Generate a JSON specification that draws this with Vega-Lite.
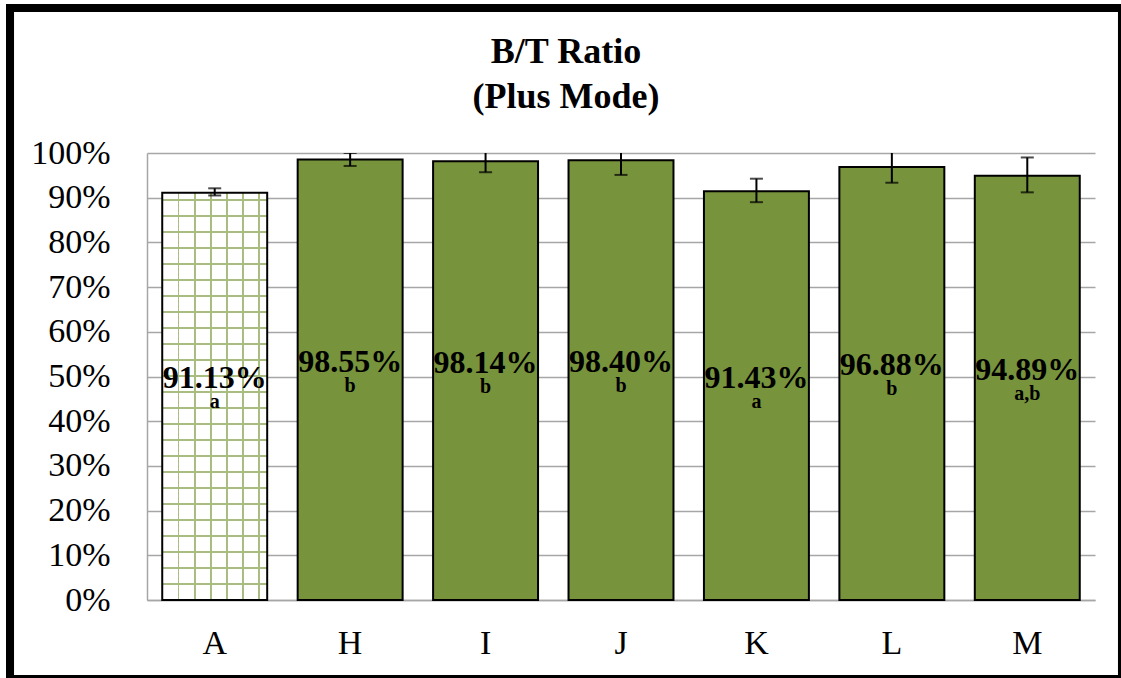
{
  "$schema": "https://vega.github.io/schema/vega-lite/v6.json",
  "autosize": "none",
  "width": 948,
  "height": 447,
  "padding": {"left": 147, "top": 153, "right": 26, "bottom": 78},
  "background": "white",
  "config": {
    "view": {"stroke": null},
    "font": "Liberation Serif",
    "axis": {"labelFont": "Liberation Serif", "labelColor": "black", "labelFontSize": 34, "ticks": false, "title": null, "domainColor": "#A6A6A6", "domainWidth": 1.5, "gridColor": "#A6A6A6", "gridWidth": 1.5}
  },
  "title": {
    "text": ["B/T Ratio", "(Plus Mode)"],
    "anchor": "middle",
    "frame": "group",
    "dx": -55,
    "offset": -140,
    "baseline": "alphabetic",
    "font": "Liberation Serif",
    "fontSize": 36,
    "fontWeight": "bold",
    "lineHeight": 45,
    "color": "black"
  },
  "data": {
    "values": [
      {"cat": "A", "value": 0.9113, "lo": 0.905, "hi": 0.921, "letter": "a"},
      {"cat": "H", "value": 0.9855, "lo": 0.971, "hi": 1.000, "letter": "b"},
      {"cat": "I", "value": 0.9814, "lo": 0.957, "hi": 1.006, "letter": "b"},
      {"cat": "J", "value": 0.9840, "lo": 0.951, "hi": 1.017, "letter": "b"},
      {"cat": "K", "value": 0.9143, "lo": 0.890, "hi": 0.9425, "letter": "a"},
      {"cat": "L", "value": 0.9688, "lo": 0.9335, "hi": 1.004, "letter": "b"},
      {"cat": "M", "value": 0.9489, "lo": 0.912, "hi": 0.990, "letter": "a,b"}
    ]
  },
  "layer": [
    {
      "encoding": {
        "x": {"field": "cat", "type": "nominal", "sort": ["A", "H", "I", "J", "K", "L", "M"],
              "scale": {"paddingInner": 0.225, "paddingOuter": 0.1125},
              "axis": {"labelAngle": 0, "labelPadding": 26, "labelFont": "Liberation Serif", "labelFontSize": 34, "domain": true}},
        "y": {"field": "value", "type": "quantitative",
              "scale": {"domain": [0, 1], "nice": false, "zero": true},
              "axis": {"values": [0, 0.1, 0.2, 0.3, 0.4, 0.5, 0.6, 0.7, 0.8, 0.9, 1.0], "format": ".0%", "grid": true, "domain": true, "labelPadding": 37, "labelFont": "Liberation Serif", "labelFontSize": 34}}
      },
      "layer": [
        {
          "transform": [{"filter": "datum.cat !== 'A'"}],
          "mark": {"type": "bar", "fill": "#77933C", "stroke": "black", "strokeWidth": 2}
        },
        {
          "transform": [{"filter": "datum.cat === 'A'"}],
          "mark": {"type": "bar", "fill": "white", "strokeWidth": 0}
        },
        {
          "transform": [{"filter": "datum.cat === 'A'"}],
          "mark": {"type": "bar", "strokeWidth": 0, "fill": {
            "gradient": "linear", "x1": 0, "y1": 0, "x2": 0, "y2": 1,
            "stops": [
              {"offset": 0.0, "color": "rgba(255,255,255,0)"},
              {"offset": 0.01645, "color": "rgba(255,255,255,0)"}, {"offset": 0.01645, "color": "#a9bd80"}, {"offset": 0.02045, "color": "#a9bd80"}, {"offset": 0.02045, "color": "rgba(255,255,255,0)"},
              {"offset": 0.05572, "color": "rgba(255,255,255,0)"}, {"offset": 0.05572, "color": "#a9bd80"}, {"offset": 0.05972, "color": "#a9bd80"}, {"offset": 0.05972, "color": "rgba(255,255,255,0)"},
              {"offset": 0.09499, "color": "rgba(255,255,255,0)"}, {"offset": 0.09499, "color": "#a9bd80"}, {"offset": 0.09899, "color": "#a9bd80"}, {"offset": 0.09899, "color": "rgba(255,255,255,0)"},
              {"offset": 0.13427, "color": "rgba(255,255,255,0)"}, {"offset": 0.13427, "color": "#a9bd80"}, {"offset": 0.13827, "color": "#a9bd80"}, {"offset": 0.13827, "color": "rgba(255,255,255,0)"},
              {"offset": 0.17354, "color": "rgba(255,255,255,0)"}, {"offset": 0.17354, "color": "#a9bd80"}, {"offset": 0.17754, "color": "#a9bd80"}, {"offset": 0.17754, "color": "rgba(255,255,255,0)"},
              {"offset": 0.21281, "color": "rgba(255,255,255,0)"}, {"offset": 0.21281, "color": "#a9bd80"}, {"offset": 0.21681, "color": "#a9bd80"}, {"offset": 0.21681, "color": "rgba(255,255,255,0)"},
              {"offset": 0.25209, "color": "rgba(255,255,255,0)"}, {"offset": 0.25209, "color": "#a9bd80"}, {"offset": 0.25609, "color": "#a9bd80"}, {"offset": 0.25609, "color": "rgba(255,255,255,0)"},
              {"offset": 0.29136, "color": "rgba(255,255,255,0)"}, {"offset": 0.29136, "color": "#a9bd80"}, {"offset": 0.29536, "color": "#a9bd80"}, {"offset": 0.29536, "color": "rgba(255,255,255,0)"},
              {"offset": 0.33063, "color": "rgba(255,255,255,0)"}, {"offset": 0.33063, "color": "#a9bd80"}, {"offset": 0.33463, "color": "#a9bd80"}, {"offset": 0.33463, "color": "rgba(255,255,255,0)"},
              {"offset": 0.36991, "color": "rgba(255,255,255,0)"}, {"offset": 0.36991, "color": "#a9bd80"}, {"offset": 0.37391, "color": "#a9bd80"}, {"offset": 0.37391, "color": "rgba(255,255,255,0)"},
              {"offset": 0.40918, "color": "rgba(255,255,255,0)"}, {"offset": 0.40918, "color": "#a9bd80"}, {"offset": 0.41318, "color": "#a9bd80"}, {"offset": 0.41318, "color": "rgba(255,255,255,0)"},
              {"offset": 0.44845, "color": "rgba(255,255,255,0)"}, {"offset": 0.44845, "color": "#a9bd80"}, {"offset": 0.45245, "color": "#a9bd80"}, {"offset": 0.45245, "color": "rgba(255,255,255,0)"},
              {"offset": 0.48773, "color": "rgba(255,255,255,0)"}, {"offset": 0.48773, "color": "#a9bd80"}, {"offset": 0.49173, "color": "#a9bd80"}, {"offset": 0.49173, "color": "rgba(255,255,255,0)"},
              {"offset": 0.52700, "color": "rgba(255,255,255,0)"}, {"offset": 0.52700, "color": "#a9bd80"}, {"offset": 0.53100, "color": "#a9bd80"}, {"offset": 0.53100, "color": "rgba(255,255,255,0)"},
              {"offset": 0.56627, "color": "rgba(255,255,255,0)"}, {"offset": 0.56627, "color": "#a9bd80"}, {"offset": 0.57027, "color": "#a9bd80"}, {"offset": 0.57027, "color": "rgba(255,255,255,0)"},
              {"offset": 0.60555, "color": "rgba(255,255,255,0)"}, {"offset": 0.60555, "color": "#a9bd80"}, {"offset": 0.60955, "color": "#a9bd80"}, {"offset": 0.60955, "color": "rgba(255,255,255,0)"},
              {"offset": 0.64482, "color": "rgba(255,255,255,0)"}, {"offset": 0.64482, "color": "#a9bd80"}, {"offset": 0.64882, "color": "#a9bd80"}, {"offset": 0.64882, "color": "rgba(255,255,255,0)"},
              {"offset": 0.68409, "color": "rgba(255,255,255,0)"}, {"offset": 0.68409, "color": "#a9bd80"}, {"offset": 0.68809, "color": "#a9bd80"}, {"offset": 0.68809, "color": "rgba(255,255,255,0)"},
              {"offset": 0.72337, "color": "rgba(255,255,255,0)"}, {"offset": 0.72337, "color": "#a9bd80"}, {"offset": 0.72737, "color": "#a9bd80"}, {"offset": 0.72737, "color": "rgba(255,255,255,0)"},
              {"offset": 0.76264, "color": "rgba(255,255,255,0)"}, {"offset": 0.76264, "color": "#a9bd80"}, {"offset": 0.76664, "color": "#a9bd80"}, {"offset": 0.76664, "color": "rgba(255,255,255,0)"},
              {"offset": 0.80191, "color": "rgba(255,255,255,0)"}, {"offset": 0.80191, "color": "#a9bd80"}, {"offset": 0.80591, "color": "#a9bd80"}, {"offset": 0.80591, "color": "rgba(255,255,255,0)"},
              {"offset": 0.84119, "color": "rgba(255,255,255,0)"}, {"offset": 0.84119, "color": "#a9bd80"}, {"offset": 0.84519, "color": "#a9bd80"}, {"offset": 0.84519, "color": "rgba(255,255,255,0)"},
              {"offset": 0.88046, "color": "rgba(255,255,255,0)"}, {"offset": 0.88046, "color": "#a9bd80"}, {"offset": 0.88446, "color": "#a9bd80"}, {"offset": 0.88446, "color": "rgba(255,255,255,0)"},
              {"offset": 0.91973, "color": "rgba(255,255,255,0)"}, {"offset": 0.91973, "color": "#a9bd80"}, {"offset": 0.92373, "color": "#a9bd80"}, {"offset": 0.92373, "color": "rgba(255,255,255,0)"},
              {"offset": 0.95901, "color": "rgba(255,255,255,0)"}, {"offset": 0.95901, "color": "#a9bd80"}, {"offset": 0.96301, "color": "#a9bd80"}, {"offset": 0.96301, "color": "rgba(255,255,255,0)"},
              {"offset": 1.0, "color": "rgba(255,255,255,0)"}
            ]}}
        },
        {
          "transform": [{"filter": "datum.cat === 'A'"}],
          "mark": {"type": "bar", "stroke": "black", "strokeWidth": 2, "fill": {
            "gradient": "linear", "x1": 0, "y1": 0, "x2": 1, "y2": 0,
            "stops": [
              {"offset": 0.0, "color": "rgba(255,255,255,0)"},
              {"offset": 0.149, "color": "rgba(255,255,255,0)"}, {"offset": 0.149, "color": "#a9bd80"}, {"offset": 0.164, "color": "#a9bd80"}, {"offset": 0.164, "color": "rgba(255,255,255,0)"},
              {"offset": 0.302, "color": "rgba(255,255,255,0)"}, {"offset": 0.302, "color": "#a9bd80"}, {"offset": 0.317, "color": "#a9bd80"}, {"offset": 0.317, "color": "rgba(255,255,255,0)"},
              {"offset": 0.457, "color": "rgba(255,255,255,0)"}, {"offset": 0.457, "color": "#a9bd80"}, {"offset": 0.472, "color": "#a9bd80"}, {"offset": 0.472, "color": "rgba(255,255,255,0)"},
              {"offset": 0.610, "color": "rgba(255,255,255,0)"}, {"offset": 0.610, "color": "#a9bd80"}, {"offset": 0.625, "color": "#a9bd80"}, {"offset": 0.625, "color": "rgba(255,255,255,0)"},
              {"offset": 0.762, "color": "rgba(255,255,255,0)"}, {"offset": 0.762, "color": "#a9bd80"}, {"offset": 0.777, "color": "#a9bd80"}, {"offset": 0.777, "color": "rgba(255,255,255,0)"},
              {"offset": 0.917, "color": "rgba(255,255,255,0)"}, {"offset": 0.917, "color": "#a9bd80"}, {"offset": 0.932, "color": "#a9bd80"}, {"offset": 0.932, "color": "rgba(255,255,255,0)"},
              {"offset": 1.0, "color": "rgba(255,255,255,0)"}
            ]}}
        },
        {
          "mark": {"type": "rule", "color": "black", "strokeWidth": 2, "clip": true},
          "encoding": {"y": {"field": "lo", "type": "quantitative"}, "y2": {"field": "hi"}}
        },
        {
          "mark": {"type": "tick", "color": "black", "thickness": 2, "size": 13, "clip": true},
          "encoding": {"y": {"field": "lo", "type": "quantitative"}}
        },
        {
          "mark": {"type": "tick", "color": "black", "thickness": 2, "size": 13, "clip": true},
          "encoding": {"y": {"field": "hi", "type": "quantitative"}}
        },
        {
          "transform": [{"calculate": "datum.value / 2", "as": "mid"}],
          "mark": {"type": "text", "font": "Liberation Serif", "fontSize": 32, "fontWeight": "bold", "color": "black", "baseline": "alphabetic", "dy": -8},
          "encoding": {"y": {"field": "mid", "type": "quantitative"}, "text": {"field": "value", "type": "quantitative", "format": ".2%"}}
        },
        {
          "transform": [{"calculate": "datum.value / 2", "as": "mid"}],
          "mark": {"type": "text", "font": "Liberation Serif", "fontSize": 20, "fontWeight": "bold", "color": "black", "baseline": "alphabetic", "dy": 12},
          "encoding": {"y": {"field": "mid", "type": "quantitative"}, "text": {"field": "letter", "type": "nominal"}}
        }
      ]
    },
    {
      "mark": {"type": "rect", "fill": null, "fillOpacity": 0, "stroke": "black", "strokeWidth": 8, "clip": false},
      "encoding": {
        "x": {"datum": -0.14451, "type": "quantitative", "scale": {"domain": [0, 1], "nice": false, "zero": false}, "axis": null},
        "x2": {"datum": 1.02848},
        "y": {"datum": 1.32438, "type": "quantitative", "scale": {"domain": [0, 1], "nice": false, "zero": false}, "axis": null},
        "y2": {"datum": -0.17673}
      }
    }
  ],
  "resolve": {"scale": {"x": "independent", "y": "independent"}}
}
